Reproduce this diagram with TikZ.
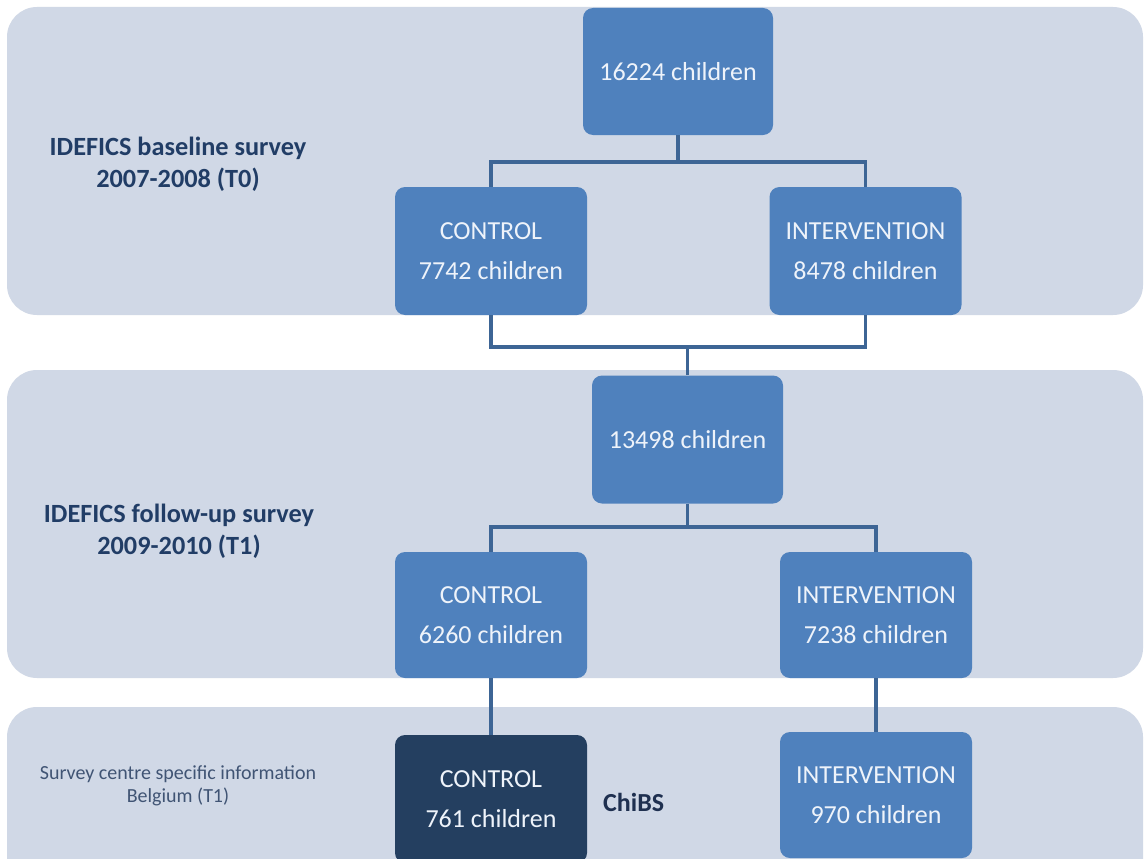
\documentclass[tikz,border=0pt]{standalone}
\usepackage{fontspec}
\setmainfont{Carlito}
\begin{document}
\begin{tikzpicture}[x=1pt,y=-1pt,
  band/.style={fill=bandc, draw=none, rounded corners=30pt},
  box/.style={rectangle, rounded corners=10pt, fill=boxc, draw=none, text=boxtext,
    minimum width=192pt, minimum height=128pt, align=center, inner sep=0pt,
    font=\fontsize{26}{40}\selectfont},
  darkbox/.style={box, fill=darkc},
  link/.style={draw=linec, line width=3.2pt},
  lbl/.style={align=center, text=lblc, font=\fontsize{26.3}{32}\selectfont\bfseries},
  small/.style={align=center, text=smallc, font=\fontsize{20}{23}\selectfont}
]
\definecolor{bandc}{HTML}{D0D8E6}
\definecolor{boxc}{HTML}{4F81BD}
\definecolor{darkc}{HTML}{243F60}
\definecolor{linec}{HTML}{3D6595}
\definecolor{boxtext}{HTML}{EEF3FA}
\definecolor{lblc}{HTML}{213D66}
\definecolor{smallc}{HTML}{405474}
\definecolor{chibsc}{HTML}{1F3050}
\useasboundingbox (0,0) rectangle (1146,859);
\clip (0,0) rectangle (1146,859);
\fill[white] (0,0) rectangle (1146,859);
% bands
\path[band] (7,7) rectangle (1143,315);
\path[band] (7,370) rectangle (1143,678);
\path[band] (7,707) rectangle (1143,920);
% labels
\node[lbl] (l1) at (178,164) {IDEFICS baseline survey\\2007-2008 (T0)};
\node[lbl] (l2) at (179,531) {IDEFICS follow-up survey\\2009-2010 (T1)};
\node[small] (l3) at (178,786) {Survey centre specific information\\Belgium (T1)};
\node[anchor=west, text=chibsc, font=\fontsize{26}{30}\selectfont\bfseries, inner sep=0pt] (chibs) at (603,802) {ChiBS};
% boxes
\node[box, minimum width=190pt, minimum height=127pt] (A) at (678,71.5) {16224 children};
\node[box] (B) at (491,251) {CONTROL\\7742 children};
\node[box] (C) at (865.5,251) {INTERVENTION\\8478 children};
\node[box, minimum width=191pt] (D) at (687.5,439.5) {13498 children};
\node[box, minimum height=126pt] (E) at (491,615) {CONTROL\\6260 children};
\node[box, minimum height=126pt] (F) at (876,615) {INTERVENTION\\7238 children};
\node[darkbox] (H) at (491,799) {CONTROL\\761 children};
\node[box, minimum height=126pt] (G) at (876,795) {INTERVENTION\\970 children};
% junctions
\coordinate (j1) at (678,162);
\coordinate (j2) at (687.5,347);
\coordinate (j3) at (687.5,527);
% connectors
\draw[link] (A.south) -- (j1);
\draw[link] (B.north) |- (j1) -| (C.north);
\draw[link] (B.south) |- (j2) -| (C.south);
\draw[link] (j2) -- (D.north);
\draw[link] (D.south) -- (j3);
\draw[link] (E.north) |- (j3) -| (F.north);
\draw[link] (E.south) -- (H.north);
\draw[link] (F.south) -- (G.north);
\end{tikzpicture}
\end{document}
